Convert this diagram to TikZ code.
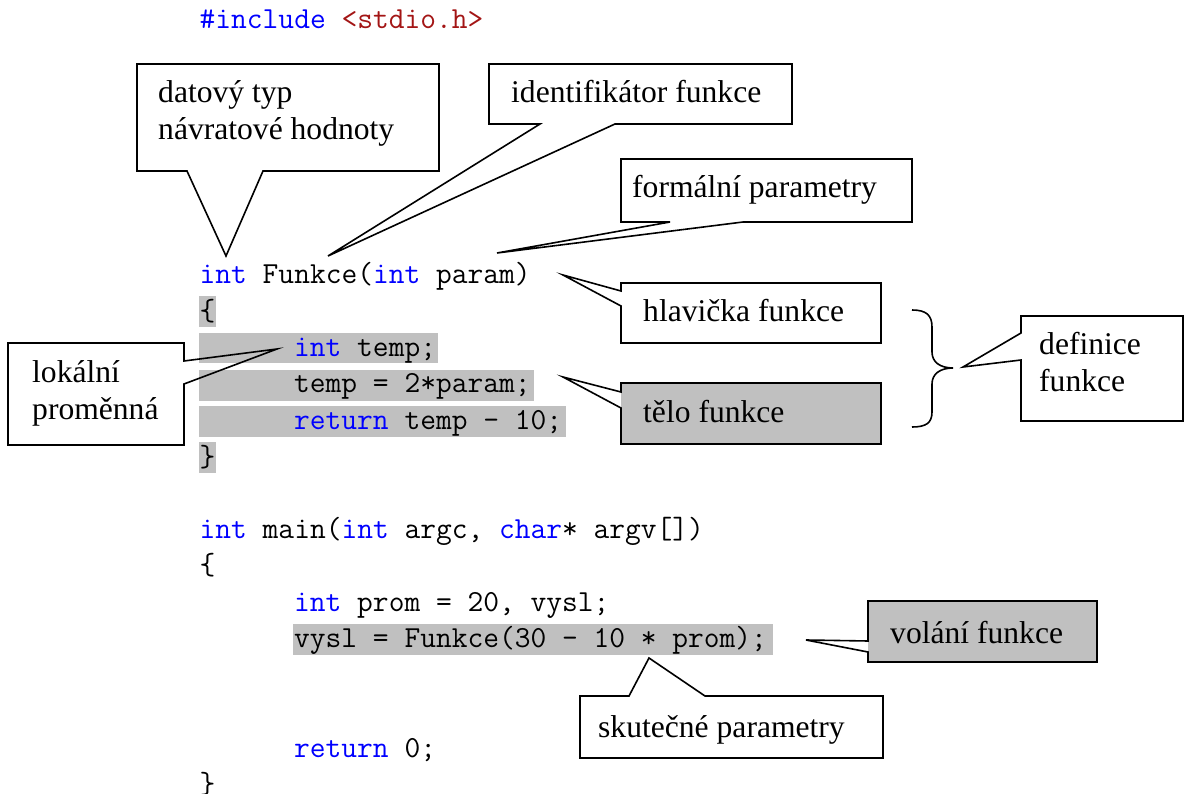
\documentclass[tikz,border=0pt]{standalone}
\usepackage{fontspec}
\setmainfont{Liberation Serif}
\definecolor{kwblue}{RGB}{0,0,255}
\definecolor{strred}{RGB}{163,21,21}
\definecolor{hl}{RGB}{192,192,192}
\newcommand\kw[1]{\textcolor{kwblue}{#1}}
\begin{document}
\begin{tikzpicture}[x=1pt,y=-1pt,
  code/.style={anchor=base west, inner sep=0pt, font=\ttfamily\fontsize{30.6}{34}\selectfont},
  note/.style={anchor=base west, inner sep=0pt, align=left, font=\fontsize{31.6}{37}\selectfont},
  callout/.style={draw=black, line width=1.6pt, line join=miter},
  hlbox/.style={fill=hl},
  bracepath/.style={draw=black, line width=1.6pt}]
\useasboundingbox (0,0) rectangle (1187,794);

% highlighted code rows
\fill[hlbox] (198.5,296.5) rectangle (215.5,327);
\fill[hlbox] (199,333) rectangle (438,363);
\fill[hlbox] (199,370) rectangle (534,401);
\fill[hlbox] (199,406) rectangle (566,437);
\fill[hlbox] (198.5,442) rectangle (215.5,473);
\fill[hlbox] (293,624) rectangle (773,655);

% source code
\node[code] (l0)  at (199.5,28.5) {\kw{\#include} \textcolor{strred}{<stdio.h>}};
\node[code] (l7)  at (199.5,284)  {\kw{int} Funkce(\kw{int} param)};
\node[code] (l8)  at (199.5,320.5){\{};
\node[code] (l9)  at (294,357)    {\kw{int} temp;};
\node[code] (l10) at (294,393)    {temp = 2*param;};
\node[code] (l11) at (294,429.5)  {\kw{return} temp - 10;};
\node[code] (l12) at (199.5,466)  {\}};
\node[code] (l14) at (199.5,538)  {\kw{int} main(\kw{int} argc, \kw{char}* argv[])};
\node[code] (l15) at (199.5,574.5){\{};
\node[code] (l16) at (294,611)    {\kw{int} prom = 20, vysl;};
\node[code] (l17) at (294,647.5)  {vysl = Funkce(30 - 10 * prom);};
\node[code] (l20) at (294,757)    {\kw{return} 0;};
\node[code] (l21) at (199.5,793)  {\}};

% pointer tips
\coordinate (tipType)  at (226,256);
\coordinate (tipName)  at (328,256);
\coordinate (tipPar)   at (497,253);
\coordinate (tipHead)  at (563,275);
\coordinate (tipBody)  at (563,377);
\coordinate (tipLocal) at (277,349);
\coordinate (tipDef)   at (963,367);
\coordinate (tipCall)  at (806,640);
\coordinate (tipArgs)  at (649,658);

% shaded callout bodies
\fill[hlbox] (621,383) rectangle (881,444);
\fill[hlbox] (868,601) rectangle (1097,662);

% callout outlines
\draw[callout] (137,64) -- (439,64) -- (439,171) -- (263,171) -- (tipType) -- (187,171) -- (137,171) -- cycle;
\draw[callout] (489,64) -- (792,64) -- (792,124) -- (615,124) -- (tipName) -- (540,124) -- (489,124) -- cycle;
\draw[callout] (621,159) -- (912,159) -- (912,222) -- (743,222) -- (tipPar) -- (670,222) -- (621,222) -- cycle;
\draw[callout] (621,283) -- (881,283) -- (881,343) -- (621,343) -- (621,306) -- (tipHead) -- (621,291) -- cycle;
\draw[callout] (621,383) -- (881,383) -- (881,444) -- (621,444) -- (621,408) -- (tipBody) -- (621,392) -- cycle;
\draw[callout] (8,343) -- (184,343) -- (184,361) -- (tipLocal) -- (184,384) -- (184,445) -- (8,445) -- cycle;
\draw[callout] (1021,316) -- (1183,316) -- (1183,421) -- (1021,421) -- (1021,360) -- (tipDef) -- (1021,333) -- cycle;
\draw[callout] (868,601) -- (1097,601) -- (1097,662) -- (868,662) -- (868,652) -- (tipCall) -- (868,641) -- cycle;
\draw[callout] (580,696) -- (629,696) -- (tipArgs) -- (705,696) -- (883,696) -- (883,758) -- (580,758) -- cycle;

% brace grouping header and body
\draw[bracepath] (912,310) .. controls (926,310) and (932,315) .. (932,327)
  -- (932,352) .. controls (932,362) and (940,368) .. (953,368)
  .. controls (940,368) and (932,374) .. (932,384)
  -- (932,412) .. controls (932,423) and (926,427) .. (912,427);

% callout texts (base anchor sits on the last line)
\node[note] (tType)  at (158,140) {datový typ\\návratové hodnoty};
\node[note] (tName)  at (511,103) {identifikátor funkce};
\node[note] (tPar)   at (632,198) {formální parametry};
\node[note] (tHead)  at (643,322) {hlavička funkce};
\node[note] (tBody)  at (643,423) {tělo funkce};
\node[note] (tLocal) at (32,420)  {lokální\\proměnná};
\node[note] (tDef)   at (1039,392){definice\\funkce};
\node[note] (tCall)  at (890,643) {volání funkce};
\node[note] (tArgs)  at (598,737) {skutečné parametry};
\end{tikzpicture}
\end{document}
